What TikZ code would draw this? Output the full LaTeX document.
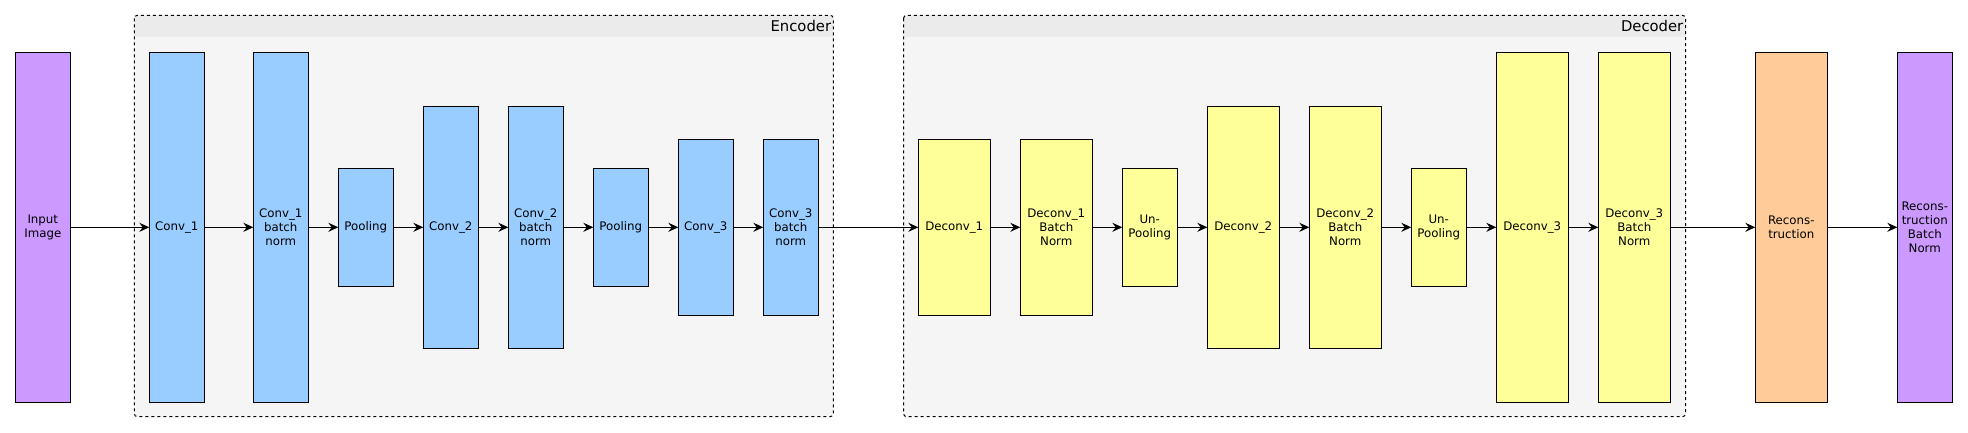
\documentclass[tikz,border=0pt]{standalone}
\usepackage{fontspec}
\setmainfont{DejaVu Sans}
\usepackage{tikz}
\usetikzlibrary{matrix,calc,backgrounds,arrows.meta}

\definecolor{encblue}{HTML}{99CCFF}
\definecolor{decyellow}{HTML}{FFFF99}
\definecolor{iopurple}{HTML}{CC99FF}
\definecolor{recorange}{HTML}{FFCC99}
\definecolor{groupfill}{HTML}{F5F5F5}
\definecolor{grouphead}{HTML}{EBEBEB}

\tikzset{
  layer/.style={draw,line width=1pt,outer sep=0pt,inner sep=1pt,align=center,
    font=\fontsize{11.8}{14}\selectfont},
  tall/.style={minimum height=350pt},
  mid/.style={minimum height=242pt},
  short/.style={minimum height=176pt},
  small/.style={minimum height=117.7pt},
  enc/.style={layer,minimum width=55pt,fill=encblue},
  dec/.style={layer,minimum width=72pt,fill=decyellow},
  unpool/.style={layer,minimum width=55pt,fill=decyellow},
  io/.style={layer,minimum width=55pt,fill=iopurple},
  rec/.style={layer,minimum width=72pt,fill=recorange},
  group/.style={draw,line width=1pt,dash pattern=on 3pt off 3pt,rounded corners=3pt},
  grouplabel/.style={inner sep=0pt,font=\fontsize{14.8}{17}\selectfont},
  flow/.style={line width=1pt,-{Stealth[length=10pt,width=9pt,inset=3.5pt]}}
}

\begin{document}
\begin{tikzpicture}
  \matrix (net) [column sep=29pt,nodes={anchor=center}]
  {
     \node[io,tall] (in) {Input\\Image}; &[49pt]
     \node[enc,tall] (c1) {Conv\_1}; &[19pt]
     \node[enc,tall] (c1b) {Conv\_1\\batch\\norm}; &
     \node[enc,small] (p1) {Pooling}; &
     \node[enc,mid] (c2) {Conv\_2}; &
     \node[enc,mid] (c2b) {Conv\_2\\batch\\norm}; &
     \node[enc,small] (p2) {Pooling}; &
     \node[enc,short] (c3) {Conv\_3}; &
     \node[enc,short] (c3b) {Conv\_3\\batch\\norm}; &[70pt]
     \node[dec,short] (d1) {Deconv\_1}; &
     \node[dec,short] (d1b) {Deconv\_1\\Batch\\Norm}; &
     \node[unpool,small] (u1) {Un-\\Pooling}; &
     \node[dec,mid] (d2) {Deconv\_2}; &
     \node[dec,mid] (d2b) {Deconv\_2\\Batch\\Norm}; &
     \node[unpool,small] (u2) {Un-\\Pooling}; &
     \node[dec,tall] (d3) {Deconv\_3}; &
     \node[dec,tall] (d3b) {Deconv\_3\\Batch\\Norm}; &[55pt]
     \node[rec,tall] (rec) {Recons-\\truction}; &[40pt]
     \node[io,tall] (recb) {Recons-\\truction\\Batch\\Norm}; \\
  };
  \path[flow]
    (in)  edge (c1)
    (c1)  edge (c1b)
    (c1b) edge (p1)
    (p1)  edge (c2)
    (c2)  edge (c2b)
    (c2b) edge (p2)
    (p2)  edge (c3)
    (c3)  edge (c3b)
    (c3b) edge (d1)
    (d1)  edge (d1b)
    (d1b) edge (u1)
    (u1)  edge (d2)
    (d2)  edge (d2b)
    (d2b) edge (u2)
    (u2)  edge (d3)
    (d3)  edge (d3b)
    (d3b) edge (rec)
    (rec) edge (recb)
  ;
  % group frames behind the layers
  \begin{scope}[on background layer]
    \coordinate (encNW) at ($(c1.north west)+(-15pt,37pt)$);
    \coordinate (encSE) at ($(c3b.east |- c1.south)+(15pt,-14.4pt)$);
    \coordinate (decNW) at ($(d1.west |- c1.north)+(-14.7pt,37pt)$);
    \coordinate (decSE) at ($(d3b.south east)+(15.2pt,-14.4pt)$);
    \fill[groupfill,rounded corners=3pt] (encNW) rectangle (encSE);
    \fill[groupfill,rounded corners=3pt] (decNW) rectangle (decSE);
    \begin{scope}
      \clip[rounded corners=3pt] (encNW) rectangle (encSE);
      \fill[grouphead] (encNW) rectangle ($(encNW -| encSE)+(0,-21.4pt)$);
    \end{scope}
    \begin{scope}
      \clip[rounded corners=3pt] (decNW) rectangle (decSE);
      \fill[grouphead] (decNW) rectangle ($(decNW -| decSE)+(0,-21.4pt)$);
    \end{scope}
    \draw[group] (encNW) rectangle (encSE);
    \draw[group] (decNW) rectangle (decSE);
  \end{scope}
  \node[grouplabel,anchor=base east] (enclabel) at ($(encNW -| encSE)+(-2pt,-15.7pt)$) {Encoder};
  \node[grouplabel,anchor=base east] (declabel) at ($(decNW -| decSE)+(-2pt,-15.7pt)$) {Decoder};
  \useasboundingbox ($(in.north west)+(-15.3pt,52.3pt)$) rectangle +(1968pt,-432pt);
\end{tikzpicture}
\end{document}
